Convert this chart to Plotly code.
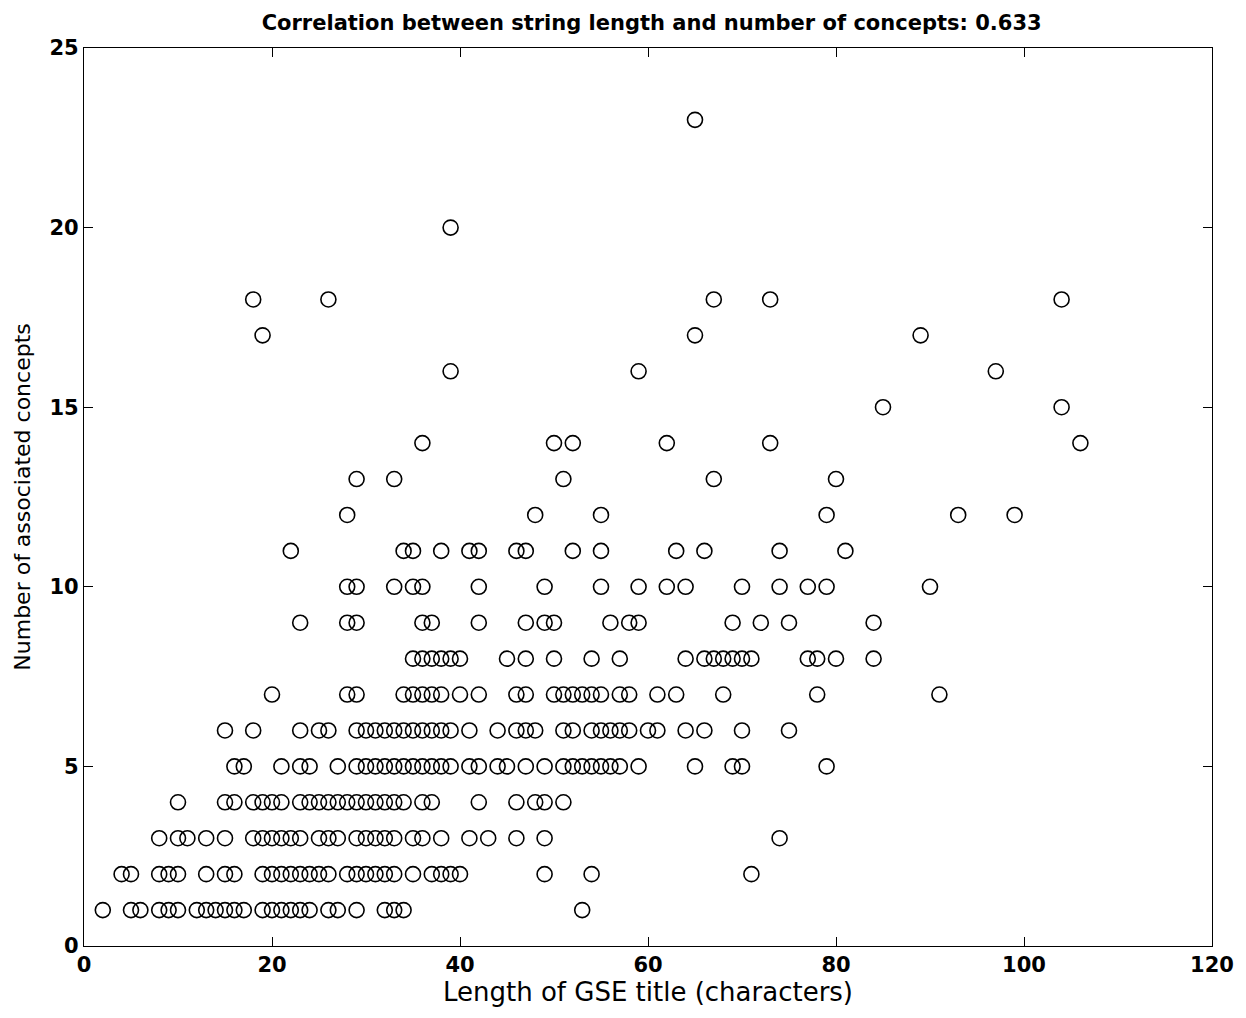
import plotly.graph_objects as go

# Title lengths (characters) for each number of associated concepts
len_c1 = [2, 5, 6, 8, 9, 10, 12, 13, 14, 15, 16, 17, 19, 20, 21, 22, 23, 24, 26, 27, 29, 32, 33, 34, 53]
len_c2 = [4, 5, 8, 9, 10, 13, 15, 16, 19, 20, 21, 22, 23, 24, 25, 26, 28, 29, 30, 31, 32, 33, 35, 37, 38, 39, 40, 49, 54, 71]
len_c3 = [8, 10, 11, 13, 15, 18, 19, 20, 21, 22, 23, 25, 26, 27, 29, 30, 31, 32, 33, 35, 36, 38, 41, 43, 46, 49, 74]
len_c4 = [10, 15, 16, 18, 19, 20, 21, 23, 24, 25, 26, 27, 28, 29, 30, 31, 32, 33, 34, 36, 37, 42, 46, 48, 49, 51]
len_c5 = [16, 17, 21, 23, 24, 27, 29, 30, 31, 32, 33, 34, 35, 36, 37, 38, 39, 41, 42, 44, 45, 47, 49, 51, 52, 53, 54, 55, 56, 57, 59, 65, 69, 70, 79]
len_c6 = [15, 18, 23, 25, 26, 29, 30, 31, 32, 33, 34, 35, 36, 37, 38, 39, 41, 44, 46, 47, 48, 51, 52, 54, 55, 56, 57, 58, 60, 61, 64, 66, 70, 75]
len_c7 = [20, 28, 29, 34, 35, 36, 37, 38, 40, 42, 46, 47, 50, 51, 52, 53, 54, 55, 57, 58, 61, 63, 68, 78, 91]
len_c8 = [35, 36, 37, 38, 39, 40, 45, 47, 50, 54, 57, 64, 66, 67, 68, 69, 70, 71, 77, 78, 80, 84]
len_c9 = [23, 28, 29, 36, 37, 42, 47, 49, 50, 56, 58, 59, 69, 72, 75, 84]
len_c10 = [28, 29, 33, 35, 36, 42, 49, 55, 59, 62, 64, 70, 74, 77, 79, 90]
len_c11 = [22, 34, 35, 38, 41, 42, 46, 47, 52, 55, 63, 66, 74, 81]
len_c12 = [28, 48, 55, 79, 93, 99]
len_c13 = [29, 33, 51, 67, 80]
len_c14 = [36, 50, 52, 62, 73, 106]
len_c15 = [85, 104]
len_c16 = [39, 59, 97]
len_c17 = [19, 65, 89]
len_c18 = [18, 26, 67, 73, 104]
len_c20 = [39]
len_c23 = [65]

concept_counts = [1, 2, 3, 4, 5, 6, 7, 8, 9, 10, 11, 12, 13, 14, 15, 16, 17, 18, 20, 23]
lengths_by_count = [len_c1, len_c2, len_c3, len_c4, len_c5, len_c6, len_c7, len_c8, len_c9, len_c10,
                    len_c11, len_c12, len_c13, len_c14, len_c15, len_c16, len_c17, len_c18, len_c20, len_c23]

xs, ys = [], []
for c, lens in zip(concept_counts, lengths_by_count):
    for L in lens:
        xs.append(L)
        ys.append(c)

fig = go.Figure(go.Scatter(
    x=xs, y=ys, mode="markers",
    marker=dict(symbol="circle-open", size=15, color="black", line=dict(width=1.6, color="black")),
    showlegend=False,
))

font_family = "DejaVu Sans, Liberation Sans, Arial, sans-serif"
axis_common = dict(
    showgrid=False, zeroline=False, showline=True, linecolor="black", linewidth=1.2,
    mirror="ticks", ticks="inside", ticklen=9, tickwidth=1.2, tickcolor="black",
    tickfont=dict(family=font_family, size=21, color="black", weight="bold"),
)

fig.update_layout(
    width=1246, height=1018,
    margin=dict(l=84, r=31, t=48, b=72),
    paper_bgcolor="white", plot_bgcolor="white",
    title=dict(text="Correlation between string length and number of concepts: 0.633",
               x=0.523, xanchor="center", y=0.978, yanchor="middle",
               font=dict(family=font_family, size=21, color="black", weight="bold")),
    xaxis=dict(range=[0, 120], dtick=20, tick0=0,
               title=dict(text="Length of GSE title (characters)", standoff=6,
                          font=dict(family=font_family, size=26, color="black")),
               **axis_common),
    yaxis=dict(range=[0, 25], dtick=5, tick0=0,
               title=dict(text="Number of associated concepts", standoff=12,
                          font=dict(family=font_family, size=22, color="black")),
               **axis_common),
)

fig.write_html("out.html")
